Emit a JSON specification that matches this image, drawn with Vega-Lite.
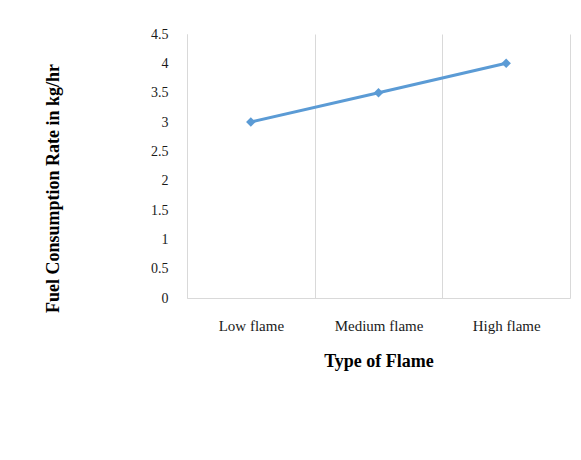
{
  "$schema": "https://vega.github.io/schema/vega-lite/v6.json",
  "width": 383,
  "height": 264,
  "autosize": {"type": "none"},
  "padding": {"left": 187, "top": 34, "right": 11, "bottom": 162},
  "background": "white",
  "config": {
    "view": {"stroke": null},
    "axis": {
      "labelFont": "Liberation Serif",
      "titleFont": "Liberation Serif",
      "labelColor": "#1a1a1a",
      "titleColor": "#000000",
      "domainColor": "#d9d9d9",
      "gridColor": "#d9d9d9",
      "ticks": false
    }
  },
  "data": {
    "values": [
      {"flame": "Low flame", "rate": 3},
      {"flame": "Medium flame", "rate": 3.5},
      {"flame": "High flame", "rate": 4}
    ]
  },
  "mark": {
    "type": "line",
    "color": "#5b9bd5",
    "strokeWidth": 3,
    "point": {"shape": "diamond", "size": 90, "filled": true, "color": "#5b9bd5"}
  },
  "encoding": {
    "x": {
      "field": "flame",
      "type": "nominal",
      "sort": null,
      "scale": {"type": "band", "paddingInner": 0, "paddingOuter": 0},
      "axis": {
        "title": "Type of Flame",
        "labelAngle": 0,
        "labelFontSize": 15,
        "labelPadding": 20,
        "titleFontSize": 18,
        "titleFontWeight": "bold",
        "titlePadding": 19,
        "grid": true,
        "tickBand": "extent"
      }
    },
    "y": {
      "field": "rate",
      "type": "quantitative",
      "scale": {"domain": [0, 4.5], "nice": false},
      "axis": {
        "title": "Fuel Consumption  Rate in kg/hr",
        "values": [0, 0.5, 1, 1.5, 2, 2.5, 3, 3.5, 4, 4.5],
        "format": "~g",
        "labelFontSize": 14,
        "labelPadding": 19,
        "grid": false,
        "titleFontSize": 18,
        "titleFontWeight": "bold",
        "titleX": -125,
        "titleY": 154
      }
    }
  }
}
